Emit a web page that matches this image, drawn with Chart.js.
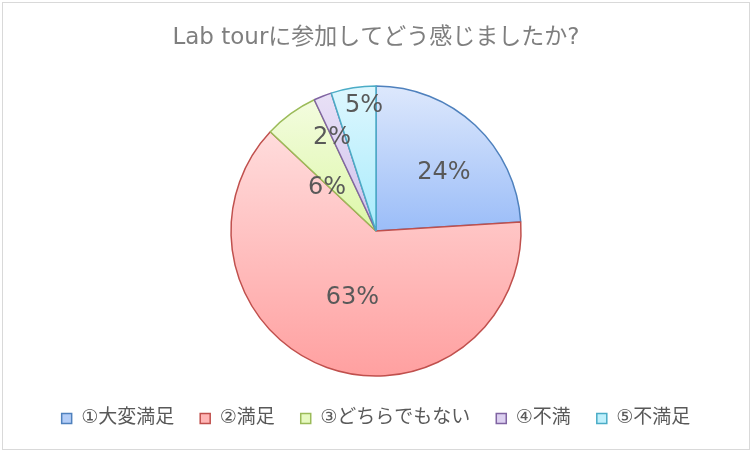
<!DOCTYPE html>
<html>
<head>
<meta charset="utf-8">
<script src="https://cdn.jsdelivr.net/npm/chart.js@4/dist/chart.umd.min.js"></script>
<style>
  html, body { margin: 0; padding: 0; background: #fff; }
  #wrap { position: relative; width: 752px; height: 452px; }
  #frame { position: absolute; left: 2px; top: 2px; right: 2px; bottom: 2px; border: 1px solid #d9d9d9; pointer-events: none; }
</style>
</head>
<body>
<div id="wrap">
  <canvas id="c" width="752" height="452"></canvas>
  <div id="frame"></div>
</div>
<script>
'use strict';

const TITLE = 'Lab tourに参加してどう感じましたか?';
const categories = ['①大変満足', '②満足', '③どちらでもない', '④不満', '⑤不満足'];
const values = [24, 63, 6, 2, 5];

// per-slice gradient (top -> bottom) and outline colours
const GRAD_TOP = ['#dde8fc', '#ffdcdc', '#f3fcdf', '#e8e0f6', '#def7fe'];
const GRAD_BOTTOM = ['#9bbdf8', '#ffa0a0', '#ddf7a8', '#d0c2ec', '#a8ebfc'];
const BOX_FILL = ['#b3cdf7', '#ffb5b5', '#e6f9c0', '#dcd0f0', '#bff0fc'];
const EDGES = ['#4f81bd', '#c0504d', '#9bbb59', '#8064a2', '#4bacc6'];
// where each percentage label sits: fraction of radius, and a turn (deg) off the slice middle
const LABEL_POS = [0.62, 0.48, 0.455, 0.716, 0.873];
const LABEL_TURN = [5.9, 0, -12, -3.5, 3.6];

// Latin glyphs from DejaVu (Verdana-like, as Meiryo), kana/kanji from Noto CJK
const FONT = '"DejaVu Sans", "Noto Sans CJK JP", sans-serif';
const RADIUS = 145;

// vertical extent of a slice, so each slice gets its own gradient like Excel
function sliceExtent(cy, r, startA, endA) {
  let ys = [cy, cy + r * Math.sin(startA), cy + r * Math.sin(endA)];
  const checks = [-Math.PI / 2, Math.PI / 2, 3 * Math.PI / 2];
  checks.forEach((a) => { if (a > startA && a < endA) ys.push(cy + r * Math.sin(a)); });
  return [Math.min(...ys), Math.max(...ys)];
}

function sliceFill(ctx) {
  const chart = ctx.chart;
  const area = chart.chartArea;
  const i = ctx.dataIndex;
  if (!area || i === undefined) return GRAD_TOP[i] || '#ccc';
  const total = values.reduce((s, v) => s + v, 0);
  const before = values.slice(0, i).reduce((s, v) => s + v, 0);
  const startA = -Math.PI / 2 + (before / total) * Math.PI * 2;
  const endA = startA + (values[i] / total) * Math.PI * 2;
  const cy = (area.top + area.bottom) / 2;
  const [y0, y1] = sliceExtent(cy, RADIUS, startA, endA);
  const g = chart.ctx.createLinearGradient(0, y0, 0, y1);
  g.addColorStop(0, GRAD_TOP[i]);
  g.addColorStop(1, GRAD_BOTTOM[i]);
  return g;
}

const pctLabels = {
  id: 'pctLabels',
  afterDatasetsDraw(chart) {
    const { ctx } = chart;
    const meta = chart.getDatasetMeta(0);
    const total = values.reduce((s, v) => s + v, 0);
    ctx.save();
    ctx.font = '24px ' + FONT;
    ctx.fillStyle = '#595959';
    ctx.textAlign = 'center';
    ctx.textBaseline = 'middle';
    meta.data.forEach((arc, i) => {
      const mid = (arc.startAngle + arc.endAngle) / 2 + LABEL_TURN[i] * Math.PI / 180;
      const d = arc.outerRadius * LABEL_POS[i];
      const x = arc.x + Math.cos(mid) * d;
      const y = arc.y + Math.sin(mid) * d + 1;
      ctx.fillText(Math.round(values[i] / total * 100) + '%', x, y);
    });
    ctx.restore();
  },
};

new Chart(document.getElementById('c'), {
  type: 'pie',
  data: {
    labels: categories,
    datasets: [{
      data: values,
      backgroundColor: sliceFill,
      borderColor: EDGES,
      borderWidth: 1.5,
      hoverOffset: 0,
      radius: RADIUS,
    }],
  },
  options: {
    responsive: false,
    animation: false,
    devicePixelRatio: 1,
    layout: { padding: { left: 5, right: 5, top: 0, bottom: 14 } },
    plugins: {
      title: {
        display: true,
        text: TITLE,
        color: '#7f7f7f',
        font: { family: FONT, size: 23, weight: 'normal' },
        padding: { top: 24, bottom: 27.4 },
      },
      legend: {
        position: 'bottom',
        labels: {
          boxWidth: 10,
          boxHeight: 10,
          padding: 26,
          color: '#595959',
          font: { family: FONT, size: 19 },
          generateLabels() {
            return categories.map((text, i) => ({
              text,
              fillStyle: BOX_FILL[i],
              strokeStyle: EDGES[i],
              lineWidth: 1.5,
              fontColor: '#595959',
              index: i,
            }));
          },
        },
      },
      tooltip: { enabled: false },
    },
  },
  plugins: [pctLabels],
});
</script>
</body>
</html>
